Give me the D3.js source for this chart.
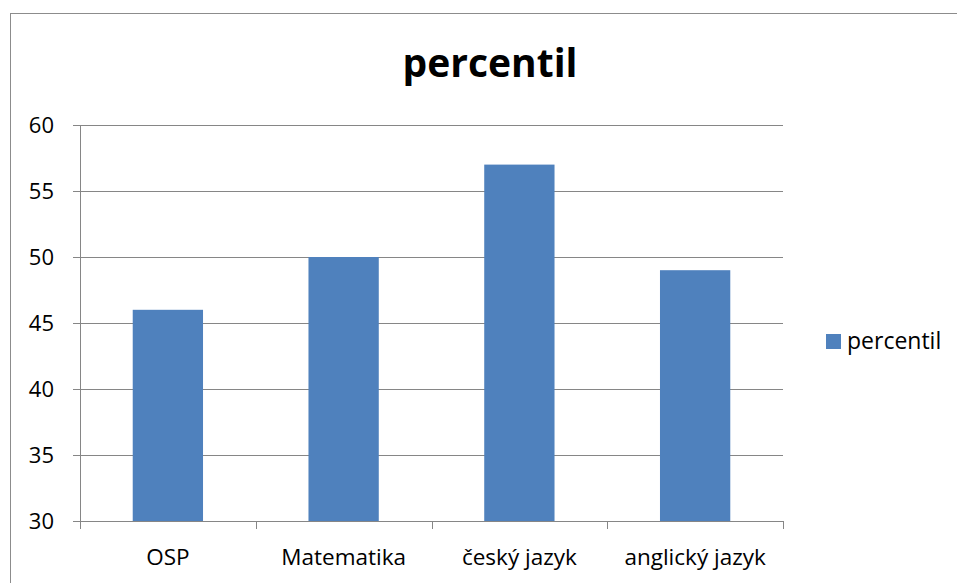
<!DOCTYPE html>
<html><head><meta charset="utf-8">
<script src="https://cdn.jsdelivr.net/npm/d3@7"></script>
<style>body{margin:0;background:#fff}svg{display:block}</style>
</head><body>
<svg id="c" width="957" height="583"></svg>
<script>
const categories = ["OSP", "Matematika", "český jazyk", "anglický jazyk"];
const values = [46, 50, 57, 49];
const yTicks = [30, 35, 40, 45, 50, 55, 60];
const seriesName = "percentil";
const title = "percentil";

(function () {
const svg = d3.select("#c");
const font = "'Open Sans', 'Noto Sans', sans-serif";
const pLeft = 80, pRight = 783, pTop = 125, pBottom = 521;
const axisColor = "#868686";

// outer border
svg.append("rect").attr("x", 10.5).attr("y", 13.5).attr("width", 960).attr("height", 600)
  .attr("fill", "none").attr("stroke", "#8c8c8c").attr("stroke-width", 1);

const x = d3.scaleBand().domain(categories).range([pLeft, pRight]).paddingInner(0).paddingOuter(0);
const y = d3.scaleLinear().domain([30, 60]).range([pBottom, pTop]);

// gridlines
svg.append("g").selectAll("line").data(yTicks).join("line")
  .attr("x1", pLeft - 7).attr("x2", pRight)
  .attr("y1", d => Math.round(y(d)) + 0.5).attr("y2", d => Math.round(y(d)) + 0.5)
  .attr("stroke", axisColor).attr("stroke-width", 1);

// y axis line
svg.append("line").attr("x1", pLeft + 0.5).attr("x2", pLeft + 0.5).attr("y1", pTop).attr("y2", pBottom)
  .attr("stroke", axisColor);

// y labels
svg.append("g").selectAll("text").data(yTicks).join("text")
  .attr("x", 54).attr("y", d => y(d) + 8)
  .attr("text-anchor", "end").attr("font-family", font).attr("font-size", 22)
  .attr("fill", "#000").text(d => d);

// bars
const bw = x.bandwidth() * 0.4;
svg.append("g").selectAll("rect").data(values).join("rect")
  .attr("x", (d, i) => x(categories[i]) + x.bandwidth() / 2 - bw / 2)
  .attr("width", bw)
  .attr("y", d => y(d)).attr("height", d => y(30) - y(d))
  .attr("fill", "#4f81bd");

// x axis
svg.append("line").attr("x1", pLeft).attr("x2", pRight)
  .attr("y1", Math.round(y(30)) + 0.5).attr("y2", Math.round(y(30)) + 0.5).attr("stroke", axisColor);
const tickPos = categories.map(c => x(c)).concat([x(categories[categories.length - 1]) + x.bandwidth()]);
svg.append("g").selectAll("line").data(tickPos).join("line")
  .attr("x1", d => Math.round(d) + 0.5).attr("x2", d => Math.round(d) + 0.5)
  .attr("y1", pBottom).attr("y2", pBottom + 8).attr("stroke", axisColor);

svg.append("g").selectAll("text").data(categories).join("text")
  .attr("x", d => x(d) + x.bandwidth() / 2).attr("y", 565)
  .attr("text-anchor", "middle").attr("font-family", font).attr("font-size", 22.5)
  .attr("fill", "#000").text(d => d);

// title
svg.append("text").attr("x", 490).attr("y", 77)
  .attr("text-anchor", "middle").attr("font-family", font).attr("font-weight", "bold")
  .attr("font-size", 39).attr("fill", "#000").text(title);

// legend
svg.append("rect").attr("x", 826).attr("y", 334).attr("width", 15).attr("height", 15).attr("fill", "#4f81bd");
svg.append("text").attr("x", 847).attr("y", 349)
  .attr("font-family", font).attr("font-size", 23).attr("fill", "#000").text(seriesName);
})();
</script>
</body></html>
